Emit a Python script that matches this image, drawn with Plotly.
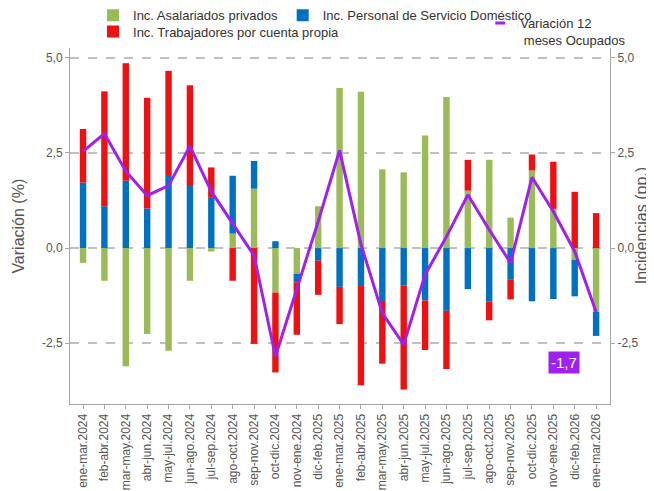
import plotly.graph_objects as go

categories = ["ene-mar.2024", "feb-abr.2024", "mar-may.2024", "abr-jun.2024", "may-jul.2024",
              "jun-ago.2024", "jul-sep.2024", "ago-oct.2024", "sep-nov.2024", "oct-dic.2024",
              "nov-ene.2024", "dic-feb.2025", "ene-mar.2025", "feb-abr.2025", "mar-may.2025",
              "abr-jun.2025", "may-jul.2025", "jun-ago.2025", "jul-sep.2025", "ago-oct.2025",
              "sep-nov.2025", "oct-dic.2025", "nov-ene.2025", "dic-feb.2026", "ene-mar.2026"]

asalariados = [-0.39, -0.86, -3.11, -2.26, -2.70, -0.86, -0.09, 0.38, 1.56, -1.17,
               -0.68, 1.10, 4.21, 4.11, 2.07, 1.99, 2.96, 3.97, 1.51, 2.32,
               0.80, 2.04, 1.03, -0.31, -1.68]
domestico = [1.72, 1.10, 1.77, 1.04, 1.92, 1.63, 1.32, 1.52, 0.73, 0.18,
             -0.22, -0.33, -1.02, -1.00, -1.39, -0.98, -1.38, -1.65, -1.08, -1.40,
             -0.82, -1.40, -1.34, -0.96, -0.63]
cuenta_propia = [1.41, 3.02, 3.09, 2.91, 2.74, 2.65, 0.80, -0.86, -2.52, -2.10,
                 -1.38, -0.90, -0.98, -2.61, -1.65, -2.74, -1.30, -1.53, 0.81, -0.50,
                 -0.53, 0.42, 1.24, 1.48, 0.92]
variacion = [2.54, 3.01, 2.02, 1.38, 1.64, 2.68, 1.49, 0.66, -0.20, -2.85,
             -1.10, 0.70, 2.57, 0.10, -1.71, -2.54, -0.70, 0.30, 1.40, 0.48,
             -0.39, 1.86, 0.96, -0.09, -1.68]

tick_vals = [-2.5, 0, 2.5, 5]
tick_text = ["-2,5", "0,0", "2,5", "5,0"]
titulo_izq = "Variación (%)"
titulo_der = "Incidencias (pp.)"

FONT = "Liberation Sans, Arial, sans-serif"
GREEN = "#9BBB59"
BLUE = "#0070C0"
RED = "#EE1111"
PURPLE = "#A020F0"
AXIS = "#A6A6A6"
GRAY_TXT = "#555555"
YR = [-4.1, 5.26]

fig = go.Figure()
fig.add_trace(go.Bar(x=categories, y=asalariados, name="Inc. Asalariados privados",
                     marker=dict(color=GREEN, line=dict(width=0)), width=0.3, legend="legend"))
fig.add_trace(go.Bar(x=categories, y=domestico, name="Inc. Personal de Servicio Doméstico",
                     marker=dict(color=BLUE, line=dict(width=0)), width=0.3, legend="legend3"))
fig.add_trace(go.Bar(x=categories, y=cuenta_propia, name="Inc. Trabajadores por cuenta propia",
                     marker=dict(color=RED, line=dict(width=0)), width=0.3, legend="legend2"))
fig.add_trace(go.Scatter(x=categories, y=variacion, mode="lines", yaxis="y2",
                         name="Variación 12 meses Ocupados", showlegend=False,
                         line=dict(color=PURPLE, width=3)))
# legend-only entry with a short dash symbol
fig.add_trace(go.Scatter(x=[None], y=[None], mode="markers", yaxis="y2",
                         name="Variación 12<br> meses Ocupados", legend="legend4",
                         marker=dict(symbol="line-ew", size=7,
                                     line=dict(color=PURPLE, width=3))))

fig.add_annotation(x=categories[-1], y=variacion[-1], yref="y2",
                   text=f"{variacion[-1]:.1f}".replace(".", ","),
                   showarrow=False, xshift=-32, yshift=-51,
                   bgcolor=PURPLE, font=dict(color="white", size=15, family=FONT),
                   borderpad=2)

# axis titles
fig.add_annotation(xref="paper", yref="paper", x=-0.097, y=0.5, text=titulo_izq,
                   textangle=-90, showarrow=False, xanchor="center", yanchor="middle",
                   font=dict(size=16, color=GRAY_TXT, family=FONT))
fig.add_annotation(xref="paper", yref="paper", x=1.058, y=0.5, text=titulo_der,
                   textangle=-90, showarrow=False, xanchor="center", yanchor="middle",
                   font=dict(size=16, color=GRAY_TXT, family=FONT))

leg_common = dict(orientation="v", xanchor="left", bgcolor="rgba(0,0,0,0)",
                  xref="container", yref="container",
                  font=dict(size=13, color="#333333", family=FONT))

fig.update_layout(
    width=654, height=491,
    margin=dict(l=62, r=52, t=40, b=95, autoexpand=False),
    plot_bgcolor="white", paper_bgcolor="white",
    barmode="relative",
    showlegend=True,
    font=dict(family=FONT, color=GRAY_TXT),
    legend=dict(x=0.13, y=0.985, yanchor="middle", **leg_common),
    legend2=dict(x=0.13, y=0.952, yanchor="middle", **leg_common),
    legend3=dict(x=0.42, y=0.985, yanchor="middle", **leg_common),
    legend4=dict(x=0.722, y=1.0, yanchor="top", valign="top", **leg_common),
    xaxis=dict(range=[-0.61, 24.65], tickangle=-90, showline=True, linecolor=AXIS,
               linewidth=1, ticks="outside", ticklen=4, tickcolor=AXIS, showgrid=False,
               tickfont=dict(size=12, color=GRAY_TXT), automargin=False),
    yaxis=dict(range=YR, tickvals=tick_vals, ticktext=tick_text, showline=True,
               linecolor=AXIS, linewidth=1, ticks="outside", ticklen=4, tickcolor=AXIS,
               showgrid=True, gridcolor="#C0C0C0", griddash="dash", gridwidth=1.5,
               zeroline=False, tickfont=dict(size=12, color=GRAY_TXT), automargin=False),
    yaxis2=dict(range=YR, tickvals=tick_vals, ticktext=tick_text, overlaying="y",
                side="right", showline=True, linecolor=AXIS, linewidth=1, ticks="outside",
                ticklen=4, tickcolor=AXIS, showgrid=False, zeroline=False, automargin=False,
                tickfont=dict(size=12, color=GRAY_TXT)),
)

fig.write_html("out.html")
